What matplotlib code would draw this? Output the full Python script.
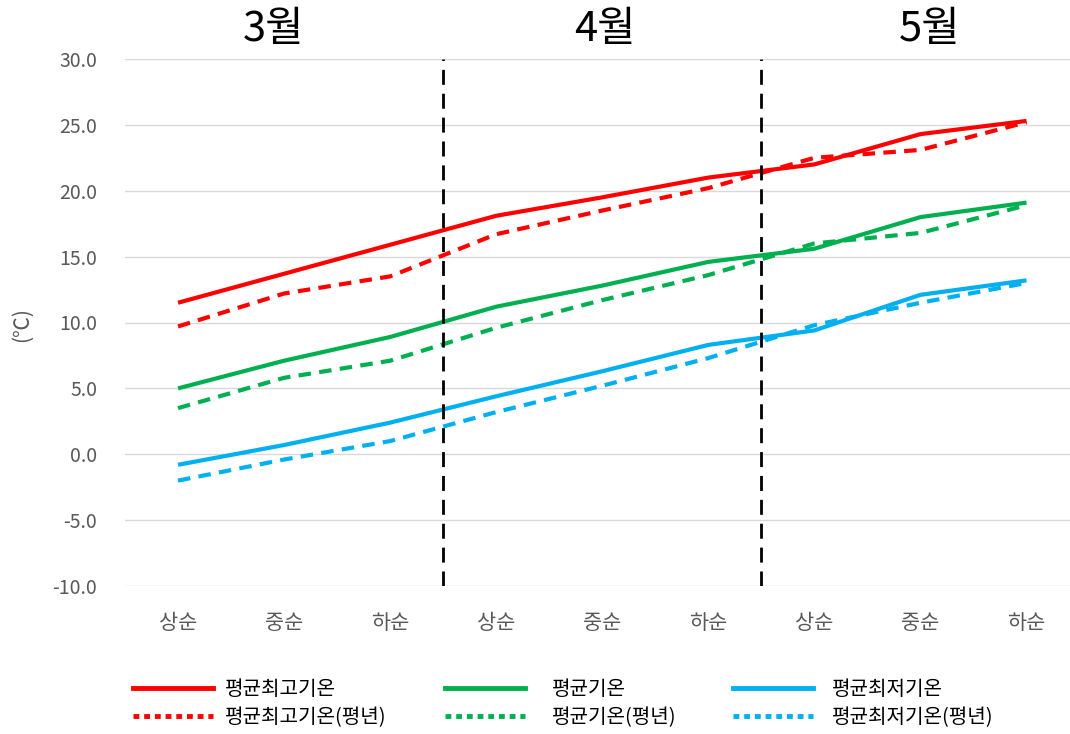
import matplotlib.pyplot as plt
from matplotlib.lines import Line2D
import numpy as np

plt.rcParams['font.family'] = ['Noto Sans CJK KR', 'DejaVu Sans']

# 데이터
categories = ['상순', '중순', '하순'] * 3
months = ['3월', '4월', '5월']

avg_max = [11.5, 13.7, 15.9, 18.1, 19.5, 21.0, 22.0, 24.3, 25.3]
avg_max_normal = [9.7, 12.2, 13.5, 16.7, 18.5, 20.2, 22.5, 23.1, 25.2]
avg_temp = [5.0, 7.1, 8.9, 11.2, 12.8, 14.6, 15.6, 18.0, 19.1]
avg_temp_normal = [3.5, 5.8, 7.1, 9.6, 11.7, 13.6, 16.0, 16.8, 18.9]
avg_min = [-0.8, 0.7, 2.4, 4.4, 6.3, 8.3, 9.4, 12.1, 13.2]
avg_min_normal = [-2.0, -0.4, 1.0, 3.2, 5.2, 7.3, 9.8, 11.5, 13.0]

series = [
    ('평균최고기온', avg_max, avg_max_normal, '#ff0000'),
    ('평균기온', avg_temp, avg_temp_normal, '#00b050'),
    ('평균최저기온', avg_min, avg_min_normal, '#00b0f0'),
]

x = np.arange(len(categories))

fig = plt.figure(figsize=(10.7, 7.34), dpi=100)
ax = fig.add_axes([125 / 1070, 1 - 586 / 734, 945 / 1070, 527 / 734])

for name, actual, normal, color in series:
    ax.plot(x, actual, color=color, lw=3, solid_capstyle='butt', zorder=3)
    ax.plot(x, normal, color=color, lw=3, dashes=(3, 2), zorder=3)

# 월 구분선
for b in [2.5, 5.5]:
    ax.axvline(b, color='black', lw=2, dashes=(5.4, 3.2), zorder=4)

ax.set_ylim(-10, 30)
ax.set_xlim(-0.5, 8.41)
ax.set_yticks(np.arange(-10, 31, 5))
ax.set_yticklabels([f'{v:.1f}' for v in np.arange(-10, 31, 5)])
ax.set_xticks(x)
ax.set_xticklabels(categories)
ax.tick_params(axis='y', length=0, pad=20, labelsize=14, labelcolor='#595959')
ax.tick_params(axis='x', length=0, pad=19, labelsize=15, labelcolor='#595959')
ax.grid(axis='y', color='#d9d9d9', lw=1)
ax.set_axisbelow(True)
for s in ax.spines.values():
    s.set_visible(False)

fig.text(22 / 1070, 1 - 325 / 734, '(℃)', rotation=90, ha='center', va='center',
         fontsize=15, color='#595959')

# 월 라벨
for pos, m in zip([0.9, 4.02, 7.09], months):
    ax.text(pos, 1 + (59 - 30) / 527, m, transform=ax.get_xaxis_transform(),
            ha='center', va='center', fontsize=30)

# 범례 (계열별로 하나씩)
legend_x = [133, 445, 733]
legend_pad = [0.6, 1.35, 0.95]
for (name, actual, normal, color), lx, pad in zip(series, legend_x, legend_pad):
    hs = [Line2D([], [], color=color, lw=3.5),
          Line2D([], [], color=color, lw=3.5, dashes=(1.2, 1.0))]
    leg = fig.legend(hs, [name, name + '(평년)'], loc='center left',
                     bbox_to_anchor=(lx / 1070, 1 - 704 / 734), frameon=False,
                     fontsize=14.5, handlelength=3.97, handletextpad=pad,
                     labelspacing=0.35, borderpad=0, borderaxespad=0)

fig.savefig('out.png', dpi=100)
